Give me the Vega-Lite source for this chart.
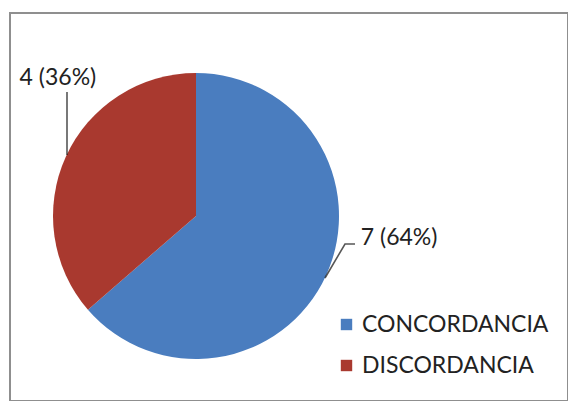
{
  "$schema": "https://vega.github.io/schema/vega-lite/v6.json",
  "width": 558,
  "height": 388,
  "autosize": {"type": "none"},
  "padding": {"left": 10, "top": 13, "right": 0, "bottom": 0},
  "background": "white",
  "view": {"stroke": "#8f8f8f", "strokeWidth": 2, "fill": "white"},
  "data": {
    "values": [
      {"category": "CONCORDANCIA", "value": 7, "label": "7 (64%)"},
      {"category": "DISCORDANCIA", "value": 4, "label": "4 (36%)"}
    ]
  },
  "layer": [
    {
      "mark": {"type": "arc", "outerRadius": 143, "x": {"expr": "width/3"}, "y": {"expr": "height*0.5232"}},
      "encoding": {
        "theta": {"field": "value", "type": "quantitative", "stack": true},
        "order": {"field": "category", "type": "nominal", "sort": "ascending"},
        "color": {
          "field": "category",
          "type": "nominal",
          "scale": {"domain": ["CONCORDANCIA", "DISCORDANCIA"], "range": ["#4a7dbf", "#a9392f"]},
          "legend": {
            "title": null,
            "orient": "none",
            "legendX": 325,
            "legendY": 300,
            "padding": 0,
            "symbolType": "square",
            "symbolSize": 130,
            "symbolStrokeWidth": 0,
            "labelFont": "Lato",
            "labelFontSize": 23,
            "labelColor": "#222222",
            "labelOffset": 4,
            "rowPadding": 17,
            "labelLimit": 400
          }
        }
      }
    },
    {
      "transform": [{"filter": "datum.category === 'CONCORDANCIA'"}],
      "mark": {"type": "point", "filled": false, "color": "#111111", "strokeWidth": 1.6, "size": 160000, "shape": "M0.645,0.31L0.745,0.14L0.795,0.14", "x": {"expr": "width/3"}, "y": {"expr": "height*0.5232"}},
      "encoding": {}
    },
    {
      "transform": [{"filter": "datum.category === 'DISCORDANCIA'"}],
      "mark": {"type": "point", "filled": false, "color": "#111111", "strokeWidth": 1.6, "size": 160000, "shape": "M-0.645,-0.305L-0.645,-0.62", "x": {"expr": "width/3"}, "y": {"expr": "height*0.5232"}},
      "encoding": {}
    },
    {
      "mark": {"type": "text", "radius": 143, "dx": -8, "dy": -79, "font": "Lato", "fontSize": 23, "color": "#222222", "align": "center", "baseline": "middle", "x": {"expr": "width/3"}, "y": {"expr": "height*0.5232"}},
      "encoding": {
        "theta": {"field": "value", "type": "quantitative", "stack": true},
        "order": {"field": "category", "type": "nominal", "sort": "ascending"},
        "detail": {"field": "category", "type": "nominal"},
        "text": {"condition": {"test": "datum.category === 'DISCORDANCIA'", "field": "label", "type": "nominal"}, "value": ""}
      }
    },
    {
      "mark": {"type": "text", "radius": 143, "dx": 73, "dy": -37, "font": "Lato", "fontSize": 23, "color": "#222222", "align": "center", "baseline": "middle", "x": {"expr": "width/3"}, "y": {"expr": "height*0.5232"}},
      "encoding": {
        "theta": {"field": "value", "type": "quantitative", "stack": true},
        "order": {"field": "category", "type": "nominal", "sort": "ascending"},
        "detail": {"field": "category", "type": "nominal"},
        "text": {"condition": {"test": "datum.category === 'CONCORDANCIA'", "field": "label", "type": "nominal"}, "value": ""}
      }
    }
  ],
  "config": {
    "view": {"stroke": "#8f8f8f", "strokeWidth": 2},
    "style": {"cell": {"stroke": "#8f8f8f", "strokeWidth": 2}}
  }
}
